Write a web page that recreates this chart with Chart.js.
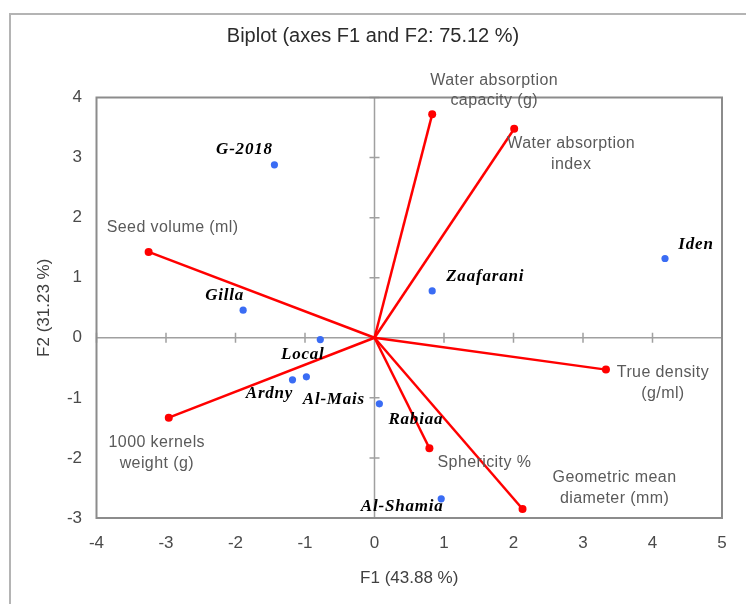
<!DOCTYPE html>
<html><head><meta charset="utf-8">
<script src="https://cdn.jsdelivr.net/npm/chart.js@4"></script>
<style>html,body{margin:0;padding:0;background:#fff}canvas{display:block}</style>
</head><body>
<canvas id="c" width="746" height="604"></canvas>
<script>
// ---------- data ----------
const chartTitle = 'Biplot (axes F1 and F2: 75.12 %)';
const xAxisTitle = 'F1 (43.88 %)';
const yAxisTitle = 'F2 (31.23 %)';
const xTickValues = [-4, -3, -2, -1, 0, 1, 2, 3, 4, 5];
const yTickValues = [-3, -2, -1, 0, 1, 2, 3, 4];

const obsNames = ['G-2018', 'Gilla', 'Local', 'Ardny', 'Al-Mais', 'Rabiaa', 'Al-Shamia', 'Zaafarani', 'Iden'];
const obsF1 = [-1.44, -1.89, -0.78, -1.18, -0.98, 0.07, 0.96, 0.83, 4.18];
const obsF2 = [2.88, 0.46, -0.03, -0.70, -0.65, -1.10, -2.68, 0.78, 1.32];

const varNames = [
  ['Seed volume (ml)'],
  ['Water absorption', 'capacity (g)'],
  ['Water absorption', 'index'],
  ['True density', '(g/ml)'],
  ['Sphericity %'],
  ['Geometric mean', 'diameter (mm)'],
  ['1000 kernels', 'weight (g)']
];
const varF1 = [-3.25, 0.83, 2.01, 3.33, 0.79, 2.13, -2.96];
const varF2 = [1.43, 3.72, 3.48, -0.53, -1.84, -2.85, -1.33];

// ---------- label placement (style, pixel offsets from the mark) ----------
const obsLabelOffsets = [[-30, -15], [-18.5, -15], [-17.5, 15], [-23, 14], [27.5, 23], [36.5, 16], [-39, 8], [53, -14], [31, -14]];
const varLabelOffsets = [[24, -24], [62, -34], [57, 15], [57, 3], [55, 14], [92, -31], [-12, 25]];

const SANS = "'Liberation Sans', Arial, sans-serif";
const SERIF = "'Liberation Serif', 'Times New Roman', serif";

const datasets = [];
varF1.forEach((vx, i) => {
  datasets.push({
    label: varNames[i].join(' '),
    data: [{x: 0, y: 0}, {x: vx, y: varF2[i]}],
    showLine: true,
    borderColor: '#ff0000',
    borderWidth: 2.5,
    pointRadius: [0, 4],
    pointBackgroundColor: '#ff0000',
    pointBorderWidth: 0,
    pointHoverRadius: 0,
    order: 2
  });
});
datasets.push({
  label: 'Observations',
  data: obsF1.map((x, i) => ({x: x, y: obsF2[i]})),
  showLine: false,
  pointRadius: 3.6,
  pointBackgroundColor: '#3a6cf4',
  pointBorderWidth: 0,
  order: 1
});

const decor = {
  id: 'decor',
  beforeDraw(chart) {
    const ctx = chart.ctx;
    ctx.save();
    ctx.strokeStyle = '#b4b4b4';
    ctx.lineWidth = 2;
    ctx.strokeRect(10, 14, 800, 700);
    ctx.fillStyle = '#2b2b2b';
    ctx.font = '20px ' + SANS;
    ctx.textAlign = 'center';
    ctx.textBaseline = 'middle';
    ctx.fillText(chartTitle, 373, 36);
    ctx.restore();
  },
  beforeDatasetsDraw(chart) {
    const ctx = chart.ctx, a = chart.chartArea;
    const xs = chart.scales.x, ys = chart.scales.y;
    const x0 = xs.getPixelForValue(0), y0 = ys.getPixelForValue(0);
    ctx.save();
    ctx.strokeStyle = '#a0a0a0';
    ctx.lineWidth = 1.5;
    ctx.beginPath();
    ctx.moveTo(a.left, y0); ctx.lineTo(a.right, y0);
    ctx.moveTo(x0, a.top); ctx.lineTo(x0, a.bottom);
    xTickValues.forEach(v => {
      const px = xs.getPixelForValue(v);
      ctx.moveTo(px, y0 - 5); ctx.lineTo(px, y0 + 5);
    });
    yTickValues.forEach(v => {
      const py = ys.getPixelForValue(v);
      ctx.moveTo(x0 - 5, py); ctx.lineTo(x0 + 5, py);
    });
    ctx.stroke();
    ctx.strokeStyle = '#8c8c8c';
    ctx.lineWidth = 2;
    ctx.strokeRect(a.left, a.top, a.right - a.left, a.bottom - a.top);
    ctx.restore();
  },
  afterDatasetsDraw(chart) {
    const ctx = chart.ctx;
    const xs = chart.scales.x, ys = chart.scales.y;
    ctx.save();
    ctx.textAlign = 'center';
    ctx.textBaseline = 'middle';
    ctx.fillStyle = '#5a5a5a';
    ctx.font = '16px ' + SANS;
    ctx.letterSpacing = '0.4px';
    varNames.forEach((lines, i) => {
      const px = xs.getPixelForValue(varF1[i]) + varLabelOffsets[i][0];
      const py = ys.getPixelForValue(varF2[i]) + varLabelOffsets[i][1];
      lines.forEach((t, k) => ctx.fillText(t, px, py + k * 20.5));
    });
    ctx.fillStyle = '#000000';
    ctx.font = 'italic bold 17px ' + SERIF;
    ctx.letterSpacing = '0.8px';
    obsNames.forEach((t, i) => {
      const px = xs.getPixelForValue(obsF1[i]) + obsLabelOffsets[i][0];
      const py = ys.getPixelForValue(obsF2[i]) + obsLabelOffsets[i][1];
      ctx.fillText(t, px, py);
    });
    ctx.restore();
  }
};

new Chart(document.getElementById('c'), {
  type: 'scatter',
  data: { datasets },
  plugins: [decor],
  options: {
    responsive: false,
    animation: false,
    devicePixelRatio: 1,
    layout: { padding: { left: 0, right: 24, top: 97.5, bottom: 0 } },
    plugins: {
      legend: { display: false },
      tooltip: { enabled: false },
      title: { display: false }
    },
    scales: {
      x: {
        type: 'linear',
        min: -4, max: 5,
        afterBuildTicks: s => { s.ticks = xTickValues.map(v => ({value: v})); },
        afterFit: s => { s.height = 86; },
        ticks: { color: '#4a4a4a', font: { family: SANS, size: 17 }, padding: 15 },
        grid: { display: false, drawTicks: false },
        border: { display: false },
        title: { display: true, text: xAxisTitle, color: '#404040', font: { family: SANS, size: 17 }, padding: { top: 0, bottom: 15.8 } }
      },
      y: {
        type: 'linear',
        min: -3, max: 4,
        afterBuildTicks: s => { s.ticks = yTickValues.map(v => ({value: v})); },
        afterFit: s => { s.width = 96.5; },
        ticks: { color: '#4a4a4a', font: { family: SANS, size: 17 }, padding: 14.5 },
        grid: { display: false, drawTicks: false },
        border: { display: false },
        title: { display: true, text: yAxisTitle, color: '#404040', font: { family: SANS, size: 17 }, padding: { top: 34, bottom: 0 } }
      }
    }
  }
});
</script>
</body></html>
